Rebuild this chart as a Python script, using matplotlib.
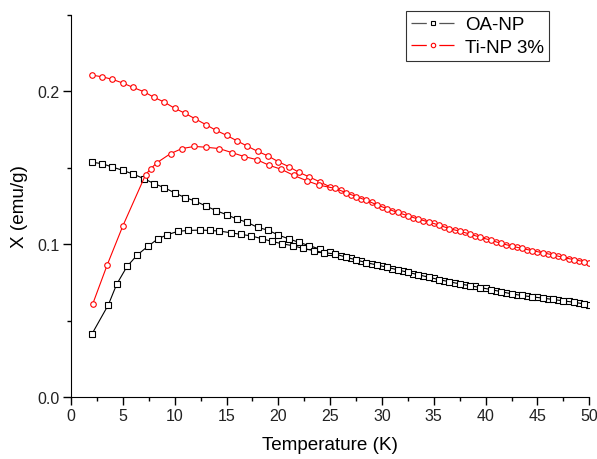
import matplotlib
matplotlib.use("Agg")
from matplotlib import pyplot as plt
from matplotlib.lines import Line2D
from matplotlib.ticker import MultipleLocator

plt.rcParams['font.family'] = ['Liberation Sans', 'DejaVu Sans']

# OA-NP, field cooled branch (upper)
oa_fc_t = [2, 3, 4, 5, 6, 7, 8, 9, 10, 11, 12, 13, 14, 15, 16, 17, 18, 19, 20, 21, 22, 23, 24, 25,
           26, 27, 28, 29, 30, 31, 32, 33, 34, 35, 36, 37, 38, 39, 40, 41, 42, 43, 44, 45, 46, 47, 48, 49, 50]
oa_fc = [.1537, .1527, .1505, .1483, .1459, .1430, .1397, .1370, .1336, .1305, .1282, .1250, .1220,
         .1193, .1165, .1143, .1110, .1092, .1060, .1035, .1012, .0990, .0968, .0946, .0925, .0907,
         .0888, .0870, .0858, .0840, .0824, .0808, .0792, .0776, .0761, .0747, .0734, .0723, .0710,
         .0696, .0682, .0669, .0660, .0651, .0643, .0634, .0625, .0615, .0603]

# OA-NP, zero field cooled branch (lower)
oa_zfc_t = [2.0, 3.6, 4.4, 5.4, 6.4, 7.4, 8.4, 9.3, 10.3, 11.3, 12.4, 13.4, 14.3, 15.4, 16.4, 17.4,
            18.4, 19.4, 20.4, 21.4, 22.4, 23.4, 24.4, 25.5, 26.5, 27.5, 28.5, 29.5, 30.5, 31.5, 32.5,
            33.5, 34.5, 35.5, 36.5, 37.5, 38.5, 39.5, 40.5, 41.5, 42.5, 43.5, 44.5, 45.5, 46.5, 47.5,
            48.5, 49.5]
oa_zfc = [.0410, .0603, .0737, .0854, .0930, .0985, .1036, .1062, .1084, .1090, .1092, .1090, .1086,
          .1075, .1064, .1054, .1036, .1018, .1002, .0990, .0972, .0958, .0945, .0935, .0916, .0897,
          .0879, .0864, .0849, .0832, .0816, .0800, .0784, .0768, .0754, .0740, .0728, .0716, .0703,
          .0689, .0675, .0664, .0655, .0647, .0638, .0629, .0620, .0609]

# Ti-NP 3%, field cooled branch
ti_fc_t = oa_fc_t
ti_fc = [.2107, .2096, .2079, .2055, .2026, .1999, .1962, .1930, .1890, .1857, .1820, .1783, .1745,
         .1713, .1677, .1642, .1608, .1578, .1540, .1508, .1470, .1440, .1408, .1375, .1352, .1325,
         .1298, .1275, .1243, .1220, .1197, .1174, .1154, .1138, .1113, .1092, .1077, .1055, .1036,
         .1016, .0995, .0980, .0965, .0950, .0938, .0922, .0905, .0893, .0880]

# Ti-NP 3%, zero field cooled branch
ti_zfc_t = [2.1, 3.5, 5.0, 7.2, 7.7, 8.3, 9.6, 10.7, 11.9, 13.0, 14.3, 15.5, 16.7, 17.9, 19.1, 20.3,
            21.5, 22.8, 23.9, 25.5, 26.5, 27.5, 28.5, 29.5, 30.5, 31.5, 32.5, 33.5, 34.5, 35.5, 36.5,
            37.5, 38.5, 39.5, 40.5, 41.5, 42.5, 43.5, 44.5, 45.5, 46.5, 47.5, 48.5, 49.5]
ti_zfc = [.0610, .0866, .1120, .1456, .1495, .1534, .1593, .1626, .1640, .1635, .1626, .1600, .1574,
          .1554, .1517, .1490, .1450, .1414, .1387, .1365, .1338, .1312, .1287, .1258, .1232, .1208,
          .1186, .1164, .1146, .1125, .1102, .1085, .1066, .1045, .1026, .1005, .0988, .0972, .0958,
          .0944, .0930, .0913, .0899, .0886]

legend_labels = ['OA-NP', 'Ti-NP 3%']

fig = plt.figure(figsize=(5.97, 4.60), dpi=100)
ax = fig.add_axes([0.119, 0.135, 0.868, 0.830])

black_style = dict(color='black', lw=0.8, marker='s', ms=4, mfc='white', mec='black', mew=0.8)
red_style = dict(color='#ff0000', lw=0.8, marker='o', ms=4, mfc='white', mec='#ff0000', mew=0.8)

ax.plot(oa_fc_t, oa_fc, **black_style)
ax.plot(oa_zfc_t, oa_zfc, **black_style)
ax.plot(ti_fc_t, ti_fc, **red_style)
ax.plot(ti_zfc_t, ti_zfc, **red_style)

ax.set_xlim(0, 50)
ax.set_ylim(0, 0.25)
ax.spines['top'].set_visible(False)
ax.spines['right'].set_visible(False)
ax.xaxis.set_major_locator(MultipleLocator(5))
ax.xaxis.set_minor_locator(MultipleLocator(2.5))
ax.yaxis.set_major_locator(MultipleLocator(0.1))
ax.yaxis.set_minor_locator(MultipleLocator(0.05))
ax.tick_params(which='major', direction='out', length=5.5, width=1, labelsize=11.5, pad=2.5,
               labelcolor='#222222')
ax.tick_params(which='minor', direction='out', length=3, width=1)
ax.set_yticks([0.0, 0.1, 0.2])
ax.set_yticklabels(['0.0', '0.1', '0.2'])

ax.set_xlabel('Temperature (K)', fontsize=13.6, labelpad=9)
ax.set_ylabel('X (emu/g)', fontsize=13.6, labelpad=7)

# legend entries drawn Origin-style: line, gap, small marker, gap, line
handles = [
    Line2D([], [], color='#555555', lw=0.9, ls=(0, (12.25, 10)), marker='s', ms=3.2,
           mfc='white', mec='black', mew=0.8),
    Line2D([], [], color='#ff0000', lw=0.9, ls=(0, (12.25, 10)), marker='o', ms=3.2,
           mfc='white', mec='#ff0000', mew=0.8),
]
leg = ax.legend(handles, legend_labels, loc='upper left', bbox_to_anchor=(0.647, 1.01),
                borderaxespad=0, fontsize=13.5, frameon=True, fancybox=False, edgecolor='black',
                handlelength=2.3, borderpad=0.25, labelspacing=0.3, handletextpad=0.6)
leg.get_frame().set_linewidth(0.8)

fig.savefig('out.png', dpi=100)
